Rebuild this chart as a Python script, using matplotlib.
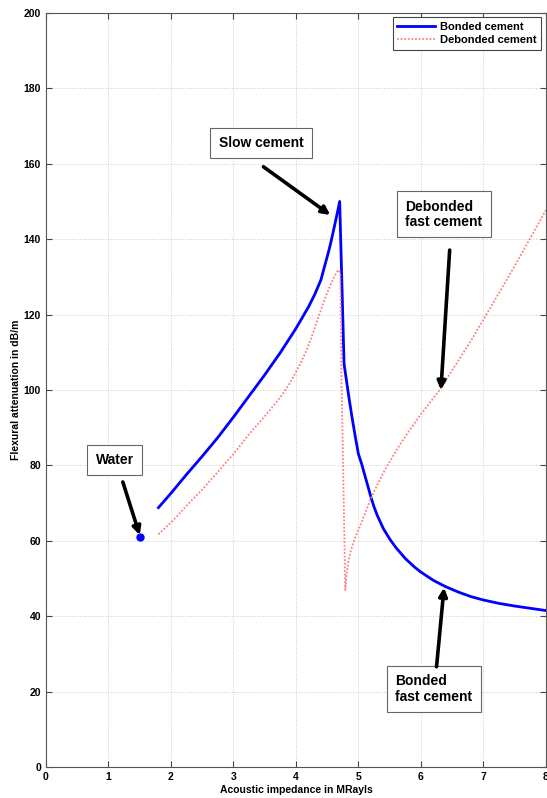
import matplotlib
matplotlib.use('Agg')
import matplotlib.pyplot as plt

plt.rcParams['font.family'] = ['Liberation Sans', 'DejaVu Sans']
plt.rcParams['font.weight'] = 'bold'

# Bonded cement attenuation (dB/m) vs acoustic impedance (MRayls)
bonded_z = [1.80, 2.00, 2.25, 2.50, 2.75, 3.00, 3.25, 3.50, 3.75, 4.00,
            4.20, 4.30, 4.40, 4.45, 4.50, 4.55, 4.60, 4.65, 4.70, 4.77,
            4.80, 4.85, 4.90, 4.95, 5.00, 5.05, 5.10, 5.15, 5.20, 5.25,
            5.30, 5.40, 5.50, 5.60, 5.75, 5.90, 6.00, 6.20, 6.40, 6.60,
            6.80, 7.00, 7.25, 7.50, 7.75, 8.00]
bonded_att = [68.8, 72.6, 77.6, 82.4, 87.4, 92.8, 98.4, 104.0, 109.9, 116.3,
              122.0, 125.3, 129.2, 132.3, 135.3, 138.5, 142.2, 146.0, 150.0, 107.0,
              103.5, 97.8, 92.5, 87.6, 83.0, 80.5, 77.5, 74.6, 71.6, 69.0,
              66.8, 63.2, 60.5, 58.2, 55.3, 53.0, 51.7, 49.5, 47.8, 46.4,
              45.2, 44.3, 43.4, 42.7, 42.1, 41.5]

# Debonded cement
debonded_z = [1.80, 2.04, 2.25, 2.50, 2.73, 3.00, 3.26, 3.50, 3.64, 3.80,
              3.92, 4.05, 4.15, 4.25, 4.38, 4.50, 4.60, 4.66, 4.69, 4.71,
              4.73, 4.76, 4.79, 4.81, 4.84, 4.88, 4.95, 5.02, 5.10, 5.18,
              5.30, 5.45, 5.61, 5.80, 6.00, 6.30, 6.55, 6.81, 7.10, 7.40,
              7.70, 8.00]
debonded_att = [61.7, 65.5, 69.3, 73.6, 77.9, 83.0, 88.5, 93.0, 95.8, 99.2,
                102.3, 106.3, 109.8, 114.0, 120.3, 125.8, 129.6, 131.4, 131.8, 130.5,
                102.0, 75.0, 47.0, 51.0, 54.5, 57.5, 61.0, 63.7, 67.0, 70.5,
                74.8, 79.6, 84.1, 88.9, 93.6, 100.0, 106.5, 113.3, 121.5, 130.0,
                138.8, 147.7]

water_z = [1.5]
water_att = [61.0]

fig = plt.figure(figsize=(5.47, 7.98), dpi=100)
ax = fig.add_axes([0.084, 0.0388, 0.914, 0.945])

ax.plot(bonded_z, bonded_att, color='#0000ff', lw=2, label='Bonded cement')
ax.plot(debonded_z, debonded_att, color='#ff7f7f', lw=1.3,
        linestyle=(0, (1, 1)), label='Debonded cement')
ax.plot(water_z, water_att, 'o', color='#0000ff', ms=5)

ax.set_xlim(0, 8)
ax.set_ylim(0, 200)
ax.set_xticks(range(0, 9))
ax.set_yticks(range(0, 201, 20))
ax.tick_params(direction='in', top=True, right=True, labelsize=7.5,
               color='#444444', length=4)
for lbl in ax.get_xticklabels() + ax.get_yticklabels():
    lbl.set_fontweight('bold')
for s in ax.spines.values():
    s.set_color('#555555')
    s.set_linewidth(0.8)
ax.grid(True, linestyle=':', color='#cccccc', lw=0.7)

ax.set_xlabel('Acoustic impedance in MRayls', fontsize=7.5, fontweight='bold', labelpad=2)
ax.set_ylabel('Flexural attenuation in dB/m', fontsize=7.5, fontweight='bold', labelpad=2)

leg = ax.legend(loc='upper right', fontsize=8, handlelength=3.4, borderaxespad=0.4,
                fancybox=False, framealpha=1, edgecolor='#444444',
                borderpad=0.4, labelspacing=0.3, handletextpad=0.5)
leg.get_frame().set_linewidth(0.8)
for t in leg.get_texts():
    t.set_fontweight('bold')

box = dict(boxstyle='square,pad=0.6', fc='white', ec='#666666', lw=0.8)
arrow = dict(arrowstyle='-|>', color='black', lw=2.6, mutation_scale=12,
             shrinkA=0, shrinkB=0)

ax.text(1.10, 81.4, 'Water', ha='center', va='center', fontsize=10,
        fontweight='bold', bbox=box)
ax.annotate('', xy=(1.50, 61.5), xytext=(1.23, 75.6), arrowprops=arrow)

ax.text(3.44, 165.5, 'Slow cement', ha='center', va='center', fontsize=10,
        fontweight='bold', bbox=box)
ax.annotate('', xy=(4.55, 146.4), xytext=(3.48, 159.2), arrowprops=arrow)

ax.text(6.37, 146.6, 'Debonded\nfast cement', ha='center', va='center',
        fontsize=10, fontweight='bold', bbox=box, multialignment='left',
        linespacing=1.1)
ax.annotate('', xy=(6.32, 100.0), xytext=(6.46, 137.1), arrowprops=arrow)

ax.text(6.21, 20.7, 'Bonded\nfast cement', ha='center', va='center',
        fontsize=10, fontweight='bold', bbox=box, multialignment='left',
        linespacing=1.1)
ax.annotate('', xy=(6.37, 47.6), xytext=(6.25, 26.6), arrowprops=arrow)

plt.savefig('out.png', dpi=100)
